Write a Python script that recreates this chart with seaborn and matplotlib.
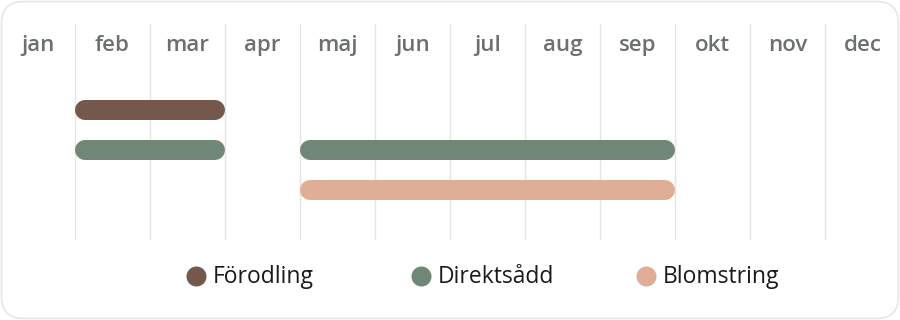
import numpy as np
import pandas as pd
import matplotlib
matplotlib.use("Agg")
import matplotlib.pyplot as plt
from matplotlib.patches import FancyBboxPatch
import seaborn as sns

# ---- data ----
months = ["jan", "feb", "mar", "apr", "maj", "jun", "jul", "aug", "sep", "okt", "nov", "dec"]
categories = ["Förodling", "Direktsådd", "Blomstring"]
colors = ["#73584b", "#6f8776", "#e0ad96"]
seg_task = ["Förodling", "Direktsådd", "Direktsådd", "Blomstring"]
seg_start = [1, 1, 4, 4]   # month index where period starts (feb=1, maj=4)
seg_end = [3, 3, 9, 9]     # month index where period ends (end of mar=3, end of sep=9)

sns.set_theme(style="white")
plt.rcParams["font.family"] = ["Open Sans", "DejaVu Sans"]

W, H, DPI = 900, 320, 100
fig = plt.figure(figsize=(W / DPI, H / DPI), dpi=DPI)

# background card
bg = fig.add_axes([0, 0, 1, 1], zorder=-1)
bg.set_xlim(0, W)
bg.set_ylim(H, 0)
bg.set_axis_off()
bg.add_patch(FancyBboxPatch((1.5, 1.5), W - 3, H - 3,
                            boxstyle="round,pad=0,rounding_size=22",
                            facecolor="white", edgecolor="#e6e6e6", linewidth=1.2))

# main timeline axes
top_px, bot_px = 24, 240
ax = fig.add_axes([0, (H - bot_px) / H, 1, (bot_px - top_px) / H])
ax.patch.set_alpha(0)

lw_px = 20
lw_pt = lw_px * 72 / DPI
px_per_month = W / len(months)
inset = (lw_px / 2) / px_per_month

rows = {c: i for i, c in enumerate(categories)}
recs = []
for k, (t, s, e) in enumerate(zip(seg_task, seg_start, seg_end)):
    recs.append(dict(seg=k, task=t, x=s + inset, y=rows[t]))
    recs.append(dict(seg=k, task=t, x=e - inset, y=rows[t]))
df = pd.DataFrame(recs)

sns.lineplot(data=df, x="x", y="y", hue="task", hue_order=categories,
             palette=colors, units="seg", estimator=None, sort=False,
             linewidth=lw_pt, solid_capstyle="round", legend=False, ax=ax, zorder=3)

for i in range(1, len(months)):
    ax.axvline(i, color="#e5e5e5", linewidth=1.0, zorder=1)

ax.set_xlim(0, len(months))
ax.set_ylim(3.25, -2.15)
ax.set_axis_off()

label_y = (bot_px - 51) / (bot_px - top_px)
for i, m in enumerate(months):
    ax.text(i + 0.5, label_y, m, transform=ax.get_xaxis_transform(),
            ha="center", va="baseline", fontsize=16, fontweight="semibold",
            color="#6b716d")

# legend
leg_x0, leg_dx, leg_y = 196, 225, 276
for i, (c, col) in enumerate(zip(categories, colors)):
    cx = leg_x0 + i * leg_dx
    bg.scatter([cx], [leg_y], s=(20 * 72 / DPI) ** 2, color=col, linewidths=0, zorder=3)
    bg.text(cx + 17, 283, c, ha="left", va="baseline", fontsize=16.5, color="#1a1a1a")

fig.savefig("out.png", dpi=DPI)
